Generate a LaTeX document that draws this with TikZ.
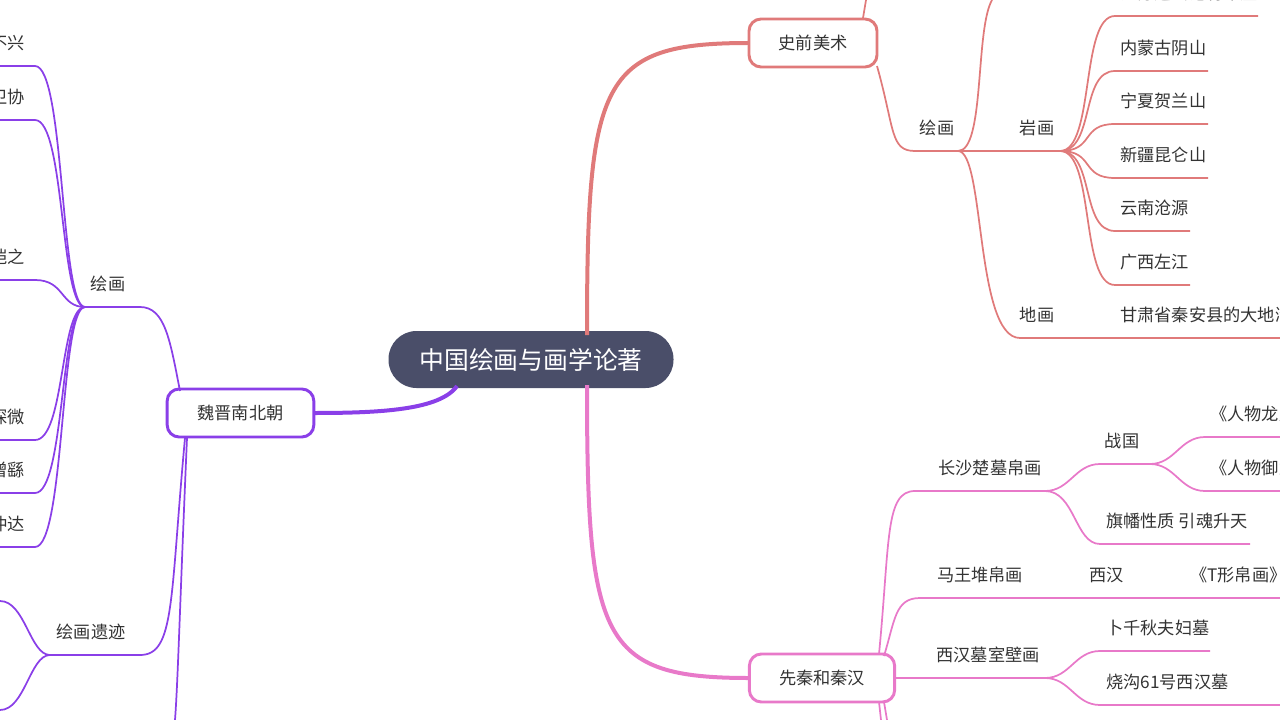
\documentclass[tikz,border=0pt]{standalone}
\usepackage{fontspec}
\newfontfamily\cjk{Noto Sans CJK SC}
\definecolor{cR}{HTML}{E07A7A}
\definecolor{cP}{HTML}{E879C9}
\definecolor{cV}{HTML}{8A3FE8}
\definecolor{cC}{HTML}{4A4E69}
\definecolor{tx}{HTML}{333333}
\begin{document}
\begin{tikzpicture}[x=0.75pt,y=-0.75pt,
  t/.style={font=\cjk\fontsize{12.9}{14}\selectfont,text=tx,inner sep=0pt},
  tl/.style={t,anchor=west},
  tr/.style={t,anchor=east},
  box/.style={draw,line width=2.2pt,rounded corners=9pt,fill=white,minimum height=36pt,inner sep=0pt,font=\cjk\fontsize{12.9}{14}\selectfont,text=tx},
  lR/.style={cR,line width=1.3pt},lP/.style={cP,line width=1.3pt},lV/.style={cV,line width=1.3pt}]
\useasboundingbox (0,0) rectangle (1280,720);
\clip (0,0) rectangle (1280,720);
% central
\node[fill=cC,rounded corners=21pt,minimum width=213.75pt,minimum height=42.75pt,text=white,font=\cjk\fontsize{18.6}{20}\selectfont] (c) at (531,359.5) {中国绘画与画学论著};
% ===== red branch
\draw[cR,line width=3pt] (587,335) .. controls (587,80) and (600,43) .. (749,43);
\node[box,draw=cR,minimum width=96pt] (s) at (813,43) {史前美术};
\draw[lR] (863,18) -- (866,0);
\draw[lR] (877,66) .. controls (895,130) and (890,151) .. (915,151) -- (958,151);
\node[t] (hh) at (937,128) {绘画};
\draw[lR] (958,151) .. controls (985,151) and (975,30) .. (992,0);
\draw[lR] (958,151) -- (1060,151);
\node[t] (yh) at (1037,128) {岩画};
\draw[lR] (958,151) .. controls (985,151) and (975,338) .. (1020,338) -- (1280,338);
\node[t] (dh) at (1037,315) {地画};
\node[tl] at (1120,315) {甘肃省秦安县的大地湾地画};
\foreach \y/\e/\s in {16/1258/江苏连云港将军崖,71/1208/内蒙古阴山,124/1208/宁夏贺兰山,178/1208/新疆昆仑山,231/1190/云南沧源,285/1190/广西左江}{
  \draw[lR] (1060,151) .. controls (1095,151) and (1080,\y) .. (1115,\y) -- (\e,\y);
  \node[tl] at (1120,\y-23) {\s};
}
% ===== pink branch
\draw[cP,line width=3pt] (587,385) .. controls (587,640) and (600,678) .. (749,678);
\node[box,draw=cP,minimum width=109pt] (q) at (822,678) {先秦和秦汉};
\draw[lP] (879,654) .. controls (890,540) and (885,491) .. (915,491) -- (1045,491);
\node[t] at (990,468) {长沙楚墓帛画};
\draw[lP] (1045,491) .. controls (1070,491) and (1075,464) .. (1100,464) -- (1150,464);
\node[t] at (1122,441) {战国};
\draw[lP] (1150,464) .. controls (1175,464) and (1180,437) .. (1205,437) -- (1280,437);
\node[tl] at (1210,414) {《人物龙凤帛画》};
\draw[lP] (1150,464) .. controls (1175,464) and (1180,491) .. (1205,491) -- (1280,491);
\node[tl] at (1210,468) {《人物御龙帛画》};
\draw[lP] (1045,491) .. controls (1075,491) and (1075,544) .. (1100,544) -- (1250,544);
\node[tl] at (1106,521) {旗幡性质 引魂升天};
\draw[lP] (884,656) .. controls (895,620) and (895,598) .. (920,598) -- (1280,598);
\node[t] at (980,575) {马王堆帛画};
\node[tl] at (1089,575) {西汉};
\node[tl] at (1190,575) {《T形帛画》};
\draw[lP] (895,678) -- (1045,678);
\node[t] at (988,655) {西汉墓室壁画};
\draw[lP] (1045,678) .. controls (1070,678) and (1075,651) .. (1100,651) -- (1210,651);
\node[tl] at (1106,628) {卜千秋夫妇墓};
\draw[lP] (1045,678) .. controls (1070,678) and (1075,705) .. (1100,705) -- (1280,705);
\node[tl] at (1106,682) {烧沟61号西汉墓};
\draw[lP] (879,702) -- (881,720);
\draw[lP] (884,702) -- (887,720);
% ===== purple branch
\draw[cV,line width=3pt] (457,386) .. controls (440,410) and (380,413) .. (314,413);
\node[box,draw=cV,minimum width=110pt] (w) at (240.5,413) {魏晋南北朝};
\draw[lV] (180,391) .. controls (170,340) and (165,307) .. (140,307) -- (85,307);
\node[t] at (108,284) {绘画};
\foreach \y/\s in {66/曹不兴,120/卫协,280/顾恺之,440/陆探微,493/张僧繇,547/曹仲达}{
  \draw[lV] (85,307) .. controls (60,307) and (65,\y) .. (35,\y) -- (0,\y);
  \node[tr] at (25,\y-23) {\s};
}
\draw[lV] (185,438) .. controls (170,600) and (175,655) .. (140,655) -- (50,655);
\node[t] at (91,632) {绘画遗迹};
\draw[lV] (50,655) .. controls (30,655) and (25,601) .. (0,601);
\draw[lV] (50,655) .. controls (30,655) and (25,710) .. (0,710);
\draw[lV] (187,438) .. controls (180,600) and (178,680) .. (175,720);
\end{tikzpicture}
\end{document}
